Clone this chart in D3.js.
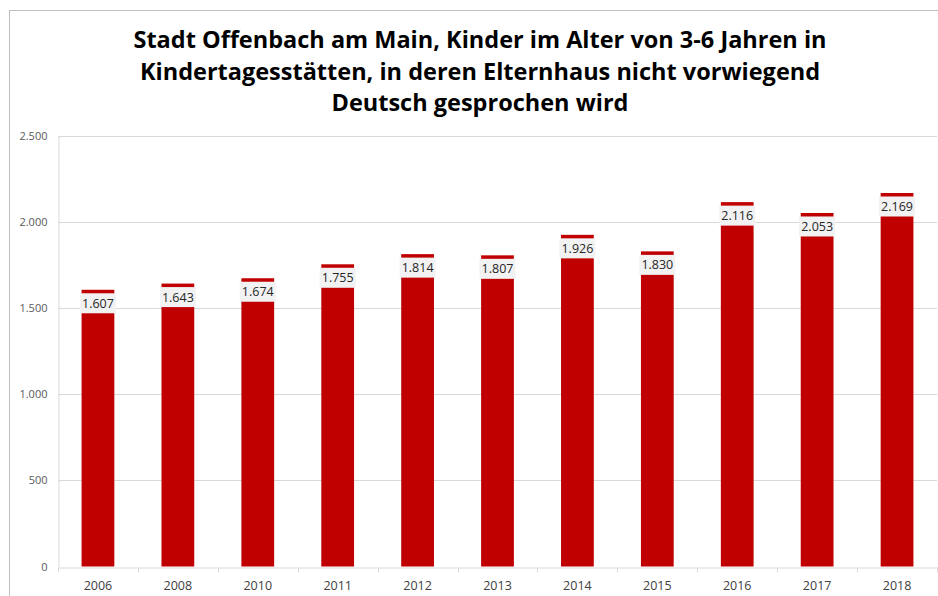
<!DOCTYPE html>
<html>
<head>
<meta charset="utf-8">
<script src="https://cdn.jsdelivr.net/npm/d3@7"></script>
<style>
  body { margin: 0; background: #fff; }
  svg { display: block; }
</style>
</head>
<body>
<script>
const years = ['2006', '2008', '2010', '2011', '2012', '2013', '2014', '2015', '2016', '2017', '2018'];
const kinder = [1607, 1643, 1674, 1755, 1814, 1807, 1926, 1830, 2116, 2053, 2169];
const yTicks = [0, 500, 1000, 1500, 2000, 2500];
const titleLines = [
  'Stadt Offenbach am Main, Kinder im Alter von 3-6 Jahren in',
  'Kindertagesstätten, in deren Elternhaus nicht vorwiegend',
  'Deutsch gesprochen wird'
];

const width = 938;
const height = 596;
const margin = { top: 136, right: 1, bottom: 29.5, left: 58 };

const svg = d3.select('body')
  .append('svg')
  .attr('width', width)
  .attr('height', height);

// chart frame (right/bottom edges lie outside the picture)
svg.append('rect')
  .attr('x', 9.5)
  .attr('y', 10.5)
  .attr('width', width + 20)
  .attr('height', height + 20)
  .attr('fill', 'none')
  .attr('stroke', '#bfbfbf');

// title
svg.append('text')
  .attr('text-anchor', 'middle')
  .style('font-family', 'Open Sans, sans-serif')
  .style('font-weight', 'bold')
  .style('font-size', '23.5px')
  .style('fill', '#000')
  .selectAll('tspan')
  .data(titleLines)
  .enter().append('tspan')
  .attr('x', 480)
  .attr('y', (d, i) => 48 + i * 31.5)
  .text(d => d);

const x = d3.scaleBand()
  .domain(years)
  .range([margin.left, width - margin.right])
  .paddingInner(0.59)
  .paddingOuter(0.295);

const y = d3.scaleLinear()
  .domain([0, 2500])
  .range([height - margin.bottom, margin.top]);

// gridlines
svg.append('g')
  .selectAll('line')
  .data(yTicks.filter(d => d > 0))
  .enter().append('line')
  .attr('x1', margin.left)
  .attr('x2', width - margin.right)
  .attr('y1', d => Math.round(y(d)) + 0.5)
  .attr('y2', d => Math.round(y(d)) + 0.5)
  .attr('stroke', '#d9d9d9');

// y axis
const yAxis = svg.append('g')
  .attr('transform', `translate(${margin.left + 0.5},0)`)
  .call(d3.axisLeft(y).tickValues(yTicks).tickSize(0).tickPadding(11)
    .tickFormat(d => d3.format(',')(d).replace(/,/g, '.')));
yAxis.select('.domain').attr('stroke', '#d9d9d9');
yAxis.selectAll('text')
  .style('font-family', 'Open Sans, sans-serif')
  .style('font-size', '11px')
  .style('fill', '#595959');

// bars
svg.append('g')
  .selectAll('rect')
  .data(kinder)
  .enter().append('rect')
  .attr('x', (d, i) => x(years[i]))
  .attr('y', d => y(d))
  .attr('width', x.bandwidth())
  .attr('height', d => y(0) - y(d))
  .attr('fill', '#c00000');

// x axis
const xAxis = svg.append('g')
  .attr('transform', `translate(0,${Math.round(y(0)) + 0.5})`)
  .call(d3.axisBottom(x).tickSize(0).tickPadding(14));
xAxis.select('.domain').attr('stroke', '#d9d9d9');
xAxis.selectAll('text')
  .style('font-family', 'Open Sans, sans-serif')
  .style('font-size', '12.5px')
  .style('fill', '#404040');
// tick marks between categories
xAxis.append('g')
  .selectAll('line')
  .data(d3.range(years.length + 1))
  .enter().append('line')
  .attr('x1', i => Math.round(margin.left + i * x.step()) + 0.5)
  .attr('x2', i => Math.round(margin.left + i * x.step()) + 0.5)
  .attr('y1', 0)
  .attr('y2', 5)
  .attr('stroke', '#d9d9d9');

// value labels with fill box
const labels = svg.append('g')
  .selectAll('g')
  .data(kinder)
  .enter().append('g')
  .attr('transform', (d, i) => `translate(${x(years[i]) + x.bandwidth() / 2},${y(d)})`);
labels.append('rect')
  .attr('x', -18)
  .attr('y', 3.5)
  .attr('width', 36)
  .attr('height', 20)
  .attr('fill', '#f2f2f2');
labels.append('text')
  .attr('text-anchor', 'middle')
  .attr('y', 18)
  .style('font-family', 'Open Sans, sans-serif')
  .style('font-size', '12.5px')
  .style('fill', '#262626')
  .text(d => d3.format(',')(d).replace(/,/g, '.'));
</script>
</body>
</html>
